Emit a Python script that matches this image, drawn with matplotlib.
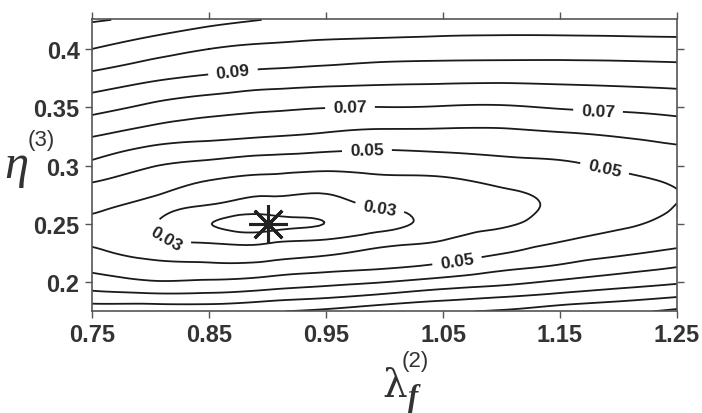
import numpy as np
import matplotlib
matplotlib.use('Agg')
import matplotlib.pyplot as plt
import matplotlib.tri as mtri

plt.rcParams['font.family'] = ['Liberation Sans', 'DejaVu Sans']
plt.rcParams['font.weight'] = 'bold'

# grid: lambda_f^(2) columns, eta^(3) rows (top -> bottom)
lam = [0.75, 0.80, 0.85, 0.90, 0.95, 1.00, 1.05, 1.10, 1.15, 1.20, 1.25]
eta = [0.425, 0.4, 0.375, 0.35, 0.325, 0.3, 0.2875, 0.275, 0.2625, 0.25,
       0.2375, 0.225, 0.2125, 0.2, 0.1875, 0.175]
misfit = [
    [0.1208, 0.1178, 0.1132, 0.1097, 0.1074, 0.1075, 0.1064, 0.1058, 0.1058, 0.1064, 0.1068],
    [0.1100, 0.1045, 0.1000, 0.0978, 0.0965, 0.0954, 0.0948, 0.0946, 0.0946, 0.0948, 0.0952],
    [0.0967, 0.0917, 0.0883, 0.0857, 0.0842, 0.0830, 0.0825, 0.0822, 0.0825, 0.0831, 0.0840],
    [0.0835, 0.0780, 0.0740, 0.0717, 0.0703, 0.0699, 0.0694, 0.0690, 0.0707, 0.0718, 0.0732],
    [0.0702, 0.0648, 0.0621, 0.0602, 0.0581, 0.0564, 0.0565, 0.0568, 0.0582, 0.0602, 0.0629],
    [0.0575, 0.0507, 0.0469, 0.0442, 0.0427, 0.0435, 0.0446, 0.0471, 0.0482, 0.0516, 0.0535],
    [0.0508, 0.0457, 0.0401, 0.0372, 0.0360, 0.0382, 0.0386, 0.0423, 0.0439, 0.0479, 0.0509],
    [0.0461, 0.0410, 0.0345, 0.0305, 0.0297, 0.0341, 0.0343, 0.0382, 0.0417, 0.0462, 0.0498],
    [0.0417, 0.0345, 0.0270, 0.0239, 0.0249, 0.0299, 0.0330, 0.0370, 0.0418, 0.0463, 0.0504],
    [0.0370, 0.0312, 0.0203, 0.0167, 0.0202, 0.0270, 0.0347, 0.0387, 0.0441, 0.0483, 0.0525],
    [0.0372, 0.0320, 0.0269, 0.0261, 0.0291, 0.0350, 0.0393, 0.0438, 0.0486, 0.0529, 0.0563],
    [0.0425, 0.0368, 0.0352, 0.0353, 0.0387, 0.0424, 0.0454, 0.0496, 0.0548, 0.0585, 0.0622],
    [0.0477, 0.0439, 0.0427, 0.0441, 0.0470, 0.0493, 0.0528, 0.0580, 0.0617, 0.0662, 0.0703],
    [0.0548, 0.0510, 0.0517, 0.0540, 0.0571, 0.0600, 0.0640, 0.0675, 0.0717, 0.0755, 0.0789],
    [0.0644, 0.0634, 0.0634, 0.0661, 0.0689, 0.0727, 0.0767, 0.0797, 0.0831, 0.0864, 0.0898],
    [0.0766, 0.0766, 0.0766, 0.0790, 0.0821, 0.0866, 0.0890, 0.0910, 0.0953, 0.0979, 0.1020],
]
plain_levels = [0.02, 0.04, 0.06, 0.08, 0.10, 0.11, 0.12]
labelled = [0.03, 0.05, 0.07, 0.09]
best = (0.90, 0.25)

xticks = [0.75, 0.85, 0.95, 1.05, 1.15, 1.25]
yticks = [0.2, 0.25, 0.3, 0.35, 0.4]
yticklabels = ['0.2', '0.25', '0.3', '0.35', '0.4']

# where the inline labels sit
label_pos = [(0.8705, 0.380), (0.9705, 0.350), (1.1825, 0.346),
             (0.985, 0.3125), (1.188, 0.297), (1.062, 0.218),
             (0.8167, 0.244), (0.996, 0.2654)]

L, E = np.meshgrid(lam, eta)
Z = np.array(misfit)
tri = mtri.Triangulation(L.ravel(), E.ravel())
refiner = mtri.UniformTriRefiner(tri)
tri_f, z_f = refiner.refine_field(Z.ravel(), subdiv=3)

W, H = 702, 414
fig = plt.figure(figsize=(W / 100, H / 100), dpi=100)
ax = fig.add_axes([92 / W, 1 - 312 / H, 585 / W, 292 / H])

line_kw = dict(colors='#1a1a1a', linewidths=1.3)
ax.tricontour(tri_f, z_f, levels=plain_levels, **line_kw)
cs = ax.tricontour(tri_f, z_f, levels=labelled, **line_kw)
texts = ax.clabel(cs, manual=label_pos, fmt='%.2f',
                  fontsize=12.5, inline=True, inline_spacing=8)
for t in texts:
    t.set_color('#222222')

ax.plot(*best, marker=(8, 2, 0), ms=28, mew=2.2, color='#222222', linestyle='none')

ax.set_xlim(0.75, 1.25)
ax.set_ylim(0.1753, 0.4257)
ax.set_xticks(xticks)
ax.set_xticklabels(['%.2f' % v for v in xticks])
ax.set_yticks(yticks)
ax.set_yticklabels(yticklabels)
ax.tick_params(direction='out', length=5, width=1, color='#555555',
               top=True, right=True, labelsize=17, labelcolor='#333333', pad=4)
for s in ax.spines.values():
    s.set_color('#555555')
    s.set_linewidth(1.2)


def fig_text(x, y, s, **kw):
    fig.text(x / W, 1 - y / H, s, ha='center', va='center', color='#333333', **kw)


# x label: lambda_f^(2)
fig_text(395, 387, '\u03bb', family='DejaVu Serif', weight='normal', fontsize=28)
fig_text(413, 399, 'f', family='Liberation Serif', style='italic', weight='bold', fontsize=22)
fig_text(415, 362, '(2)', family='Liberation Sans', weight='normal', fontsize=16)
# y label: eta^(3)
fig_text(16, 166, '\u03b7', family='Liberation Serif', style='italic', weight='normal', fontsize=35)
fig_text(41, 141, '(3)', family='Liberation Sans', weight='normal', fontsize=16)

fig.savefig('out.png', dpi=100)
